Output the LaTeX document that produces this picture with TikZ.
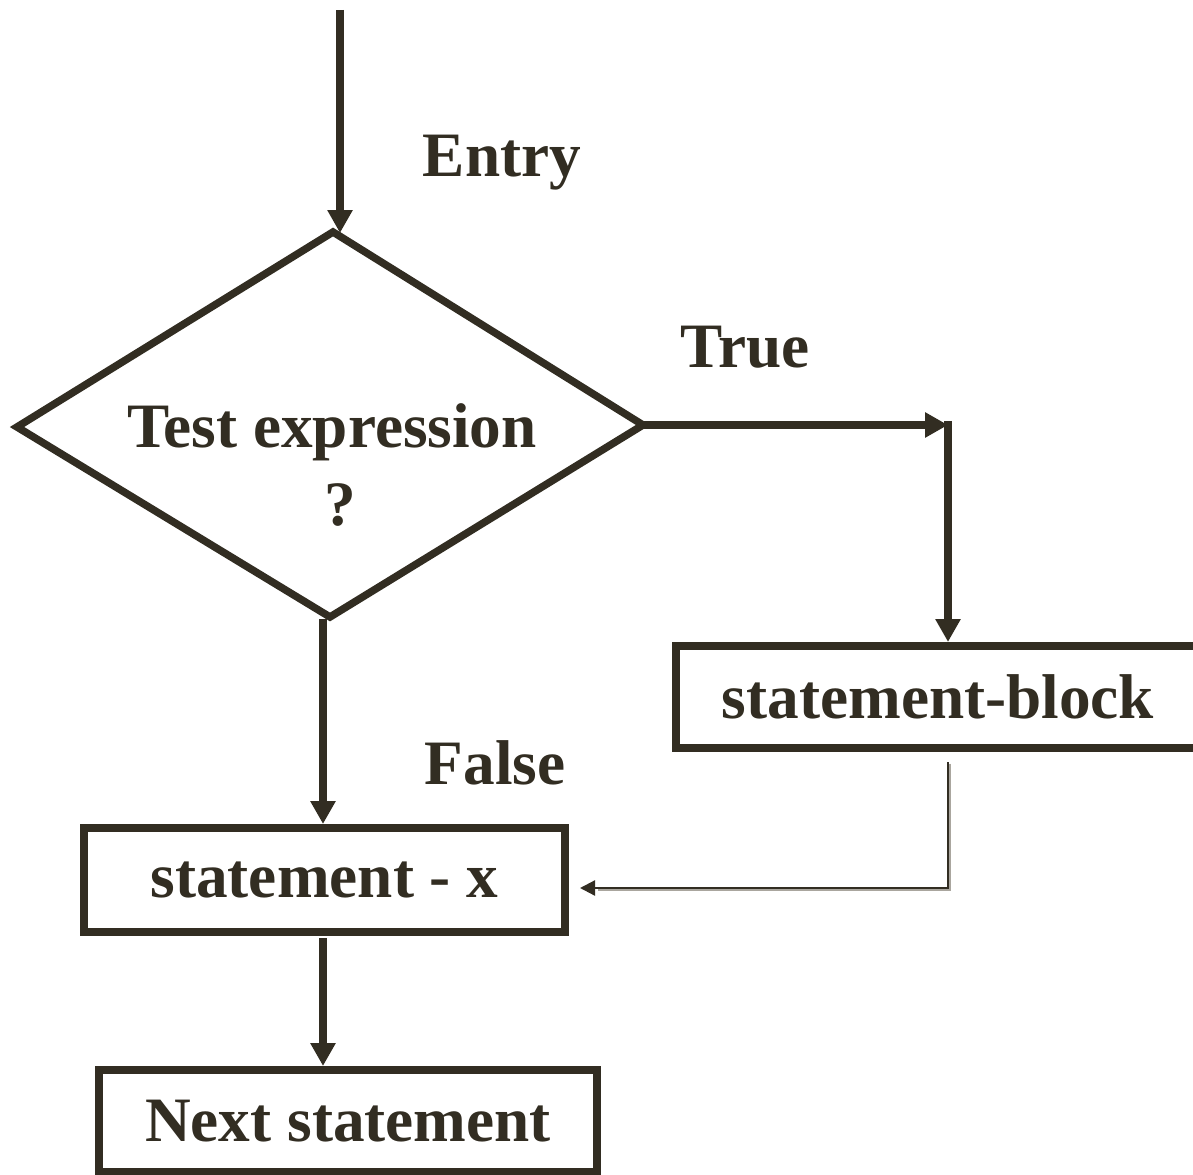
\documentclass[tikz,border=0pt]{standalone}
\usepackage{fontspec}
\setmainfont{Liberation Serif}
\usetikzlibrary{arrows.meta}
\definecolor{ink}{RGB}{50,45,34}
\definecolor{shadowgray}{RGB}{170,166,158}
\begin{document}
\begin{tikzpicture}[x=0.02cm,y=-0.02cm,
  lbl/.style={font=\bfseries\fontsize{36}{42}\selectfont, text=ink, inner sep=0pt},
  boxnode/.style={draw=ink, line width=0.16cm, inner sep=0pt, font=\bfseries\fontsize{36}{42}\selectfont, text=ink},
  thick arrow/.style={draw=ink, line width=0.16cm, -{Triangle[length=0.46cm,width=0.48cm]}},
  thin arrow/.style={draw=ink, line width=0.045cm, -{Triangle[length=0.3cm,width=0.3cm]}}]
\useasboundingbox (0,0) rectangle (1193,1175);
% diamond
\coordinate (dL) at (17,427);
\coordinate (dT) at (333,232);
\coordinate (dR) at (643,425);
\coordinate (dB) at (330,617);
\draw[ink, line width=0.15cm, line join=miter] (dL) -- (dT) -- (dR) -- (dB) -- cycle;
\node[lbl, anchor=base] (t1) at (332,448) {Test expression};
\node[lbl, anchor=base] (t2) at (340,525) {?};
% labels
\node[lbl, anchor=base] (entry) at (502,177) {Entry};
\node[lbl, anchor=base] (true) at (745,368) {True};
\node[lbl, anchor=base] (false) at (495,784) {False};
% boxes
\node[boxnode, minimum width=524*0.02cm, minimum height=102*0.02cm] (blk) at (938,697) {statement-block};
\node[boxnode, minimum width=481*0.02cm, minimum height=104*0.02cm] (sx) at (324.5,880) {statement - x};
\node[boxnode, minimum width=498*0.02cm, minimum height=102*0.02cm] (nxt) at (348,1121) {Next statement};
% connectors
\coordinate (start) at (340,10);
\coordinate (in) at (340,233);
\draw[thick arrow] (start) -- (in);
\coordinate (tc) at (948,425);
\draw[thick arrow] (dR) -- (tc);
\draw[draw=ink, line width=0.16cm] (tc) -- ++(0,4);
\draw[thick arrow] (948,421) -- (blk.north -| tc);
\coordinate (fb) at (323,619);
\draw[thick arrow] (fb) -- (sx.north -| fb);
\coordinate (sb) at (323,938);
\draw[thick arrow] (sb) -- (nxt.north -| sb);
% thin return
\coordinate (rb) at (948,762);
\coordinate (rc) at (948,888);
\coordinate (re) at (580,888);
\draw[draw=shadowgray, line width=0.04cm] ([shift={(1.5,1.5)}]rb) -- ([shift={(1.5,1.5)}]rc) -- ([shift={(18,1.5)}]re);
\draw[thin arrow] (rb) -- (rc) -- (re);
\end{tikzpicture}
\end{document}
